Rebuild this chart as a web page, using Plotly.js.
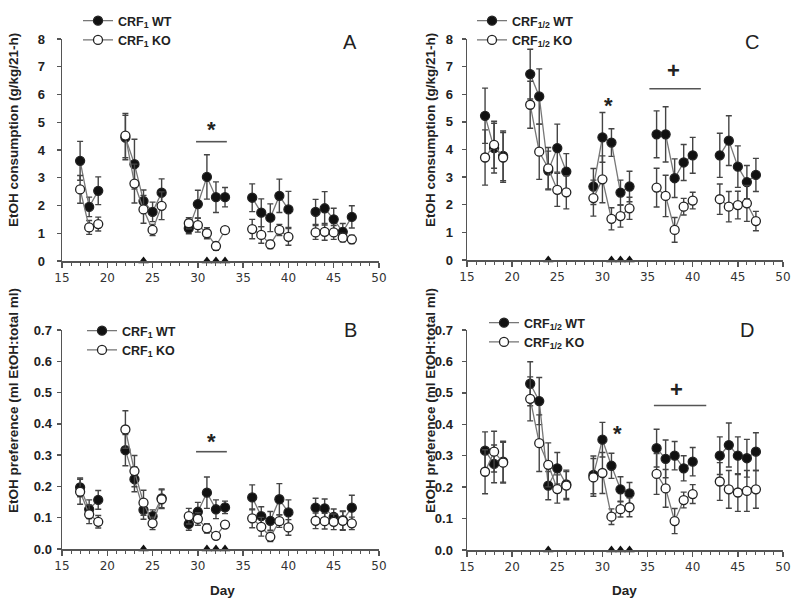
<!DOCTYPE html>
<html><head><meta charset="utf-8">
<script src="https://cdn.plot.ly/plotly-3.0.1.min.js"></script>
<style>body{margin:0;background:#fff}#chart{width:800px;height:607px}</style>
</head><body><div id="chart"></div>
<script>
// ---- data ----
const days = [17,18,19,22,23,24,25,26,29,30,31,32,33,36,37,38,39,40,43,44,45,46,47];
const triangleDays = [24,31,32,33];

const consWT1   = [3.61,1.95,2.53,4.45,3.49,2.16,1.77,2.46,1.18,2.05,3.03,2.30,2.30,2.28,1.74,1.56,2.35,1.86,1.77,1.90,1.50,1.05,1.59];
const consWT1e  = [0.7,0.35,0.5,0.8,0.9,0.4,0.35,0.5,0.2,0.5,0.8,0.55,0.35,0.5,0.5,0.5,0.6,0.65,0.45,0.6,0.4,0.3,0.4];
const consKO1   = [2.58,1.21,1.33,4.52,2.79,1.86,1.12,1.99,1.36,1.29,1.00,0.54,1.11,1.15,0.94,0.60,1.12,0.87,1.03,1.05,1.03,0.84,0.78];
const consKO1e  = [0.5,0.25,0.25,0.8,0.7,0.5,0.2,0.5,0.2,0.25,0.2,0.15,0.1,0.35,0.3,0.15,0.2,0.3,0.25,0.3,0.25,0.15,0.15];

const consWT12  = [5.22,4.05,3.77,6.73,5.92,3.24,4.05,3.20,2.66,4.44,4.25,2.44,2.66,4.55,4.55,2.96,3.53,3.79,3.79,4.32,3.38,2.82,3.08];
const consWT12e = [1.0,0.9,0.9,0.9,1.0,0.7,0.87,0.65,0.65,0.9,0.5,0.45,0.55,0.85,1.0,0.7,0.65,0.65,0.8,0.9,0.75,0.6,0.6];
const consKO12  = [3.71,4.17,3.71,5.62,3.92,3.32,2.54,2.45,2.24,2.92,1.49,1.59,1.87,2.62,2.32,1.09,1.93,2.15,2.20,1.93,1.99,2.05,1.41];
const consKO12e = [1.0,0.85,0.9,0.85,1.0,0.75,0.6,0.6,0.65,0.85,0.4,0.4,0.4,0.7,0.75,0.45,0.3,0.3,0.55,0.55,0.5,0.65,0.35];

const prefWT1   = [0.197,0.127,0.157,0.316,0.223,0.125,0.105,0.162,0.080,0.119,0.180,0.127,0.133,0.165,0.105,0.090,0.159,0.117,0.132,0.130,0.103,0.092,0.132];
const prefWT1e  = [0.03,0.03,0.03,0.05,0.04,0.03,0.02,0.03,0.02,0.03,0.05,0.03,0.02,0.04,0.03,0.03,0.05,0.04,0.03,0.03,0.025,0.03,0.04];
const prefKO1   = [0.183,0.111,0.087,0.382,0.249,0.148,0.082,0.159,0.105,0.096,0.066,0.042,0.078,0.098,0.071,0.039,0.089,0.069,0.090,0.089,0.087,0.090,0.082];
const prefKO1e  = [0.04,0.03,0.02,0.06,0.05,0.04,0.02,0.03,0.025,0.02,0.015,0.01,0.01,0.03,0.03,0.015,0.02,0.025,0.025,0.025,0.025,0.03,0.02];

const prefWT12  = [0.316,0.274,0.281,0.529,0.474,0.205,0.260,0.209,0.239,0.351,0.268,0.193,0.180,0.324,0.290,0.300,0.260,0.281,0.300,0.334,0.300,0.292,0.313];
const prefWT12e = [0.06,0.06,0.065,0.07,0.075,0.045,0.05,0.045,0.06,0.055,0.04,0.04,0.035,0.06,0.06,0.045,0.04,0.045,0.06,0.07,0.06,0.06,0.06];
const prefKO12  = [0.249,0.313,0.278,0.481,0.340,0.271,0.194,0.205,0.231,0.245,0.106,0.130,0.136,0.242,0.196,0.092,0.159,0.178,0.218,0.193,0.183,0.188,0.193];
const prefKO12e = [0.07,0.065,0.065,0.07,0.09,0.07,0.045,0.045,0.06,0.065,0.025,0.025,0.03,0.065,0.06,0.04,0.025,0.03,0.06,0.06,0.06,0.065,0.06];

const panelLabels = ['A','B','C','D'];
const legendNames = {
  wt1: 'CRF<sub>1</sub> WT', ko1: 'CRF<sub>1</sub> KO',
  wt12: 'CRF<sub>1/2</sub> WT', ko12: 'CRF<sub>1/2</sub> KO'
};
const yTitles = ['EtOH consumption (g/kg/21-h)', 'EtOH preference (ml EtOH:total ml)'];
const xTitle = 'Day';

// ---- helpers ----
function withBreaks(xs, ys, es) {
  const X = [], Y = [], E = [];
  for (let i = 0; i < xs.length; i++) {
    if (i > 0 && xs[i] - xs[i-1] > 1) { X.push(null); Y.push(null); E.push(null); }
    X.push(xs[i]); Y.push(ys[i]); E.push(es[i]);
  }
  return {X, Y, E};
}
const LINEC = '#777', ERRC = '#444';
function series(ys, es, filled, name, xa, ya, leg) {
  const d = withBreaks(days, ys, es);
  return {
    x: d.X, y: d.Y, type: 'scatter', mode: 'lines+markers', name: name,
    xaxis: xa, yaxis: ya, legend: leg, connectgaps: false, cliponaxis: false,
    line: {color: LINEC, width: 1.3},
    marker: {symbol: 'circle', size: 9, color: filled ? '#111' : '#fff', line: {color: '#222', width: 1.3}},
    error_y: {type: 'data', array: d.E, visible: true, color: ERRC, thickness: 1.4, width: 3}
  };
}
function tri(xa, ya) {
  return {x: triangleDays, y: triangleDays.map(() => 0), type: 'scatter', mode: 'markers',
    xaxis: xa, yaxis: ya, showlegend: false, cliponaxis: false, hoverinfo: 'skip',
    marker: {symbol: 'triangle-up', size: 9, color: '#111'}};
}

const data = [
  series(consWT1, consWT1e, true, legendNames.wt1, 'x', 'y', 'legend'),
  series(consKO1, consKO1e, false, legendNames.ko1, 'x', 'y', 'legend'),
  tri('x', 'y'),
  series(prefWT1, prefWT1e, true, legendNames.wt1, 'x2', 'y2', 'legend2'),
  series(prefKO1, prefKO1e, false, legendNames.ko1, 'x2', 'y2', 'legend2'),
  tri('x2', 'y2'),
  series(consWT12, consWT12e, true, legendNames.wt12, 'x3', 'y3', 'legend3'),
  series(consKO12, consKO12e, false, legendNames.ko12, 'x3', 'y3', 'legend3'),
  tri('x3', 'y3'),
  series(prefWT12, prefWT12e, true, legendNames.wt12, 'x4', 'y4', 'legend4'),
  series(prefKO12, prefKO12e, false, legendNames.ko12, 'x4', 'y4', 'legend4'),
  tri('x4', 'y4')
];

const W = 800, H = 607;
const px = v => v / W, py = v => 1 - v / H;
const AX = '#555';
function xaxis(x0, x1, anchor) {
  return {domain: [px(x0), px(x1)], anchor: anchor, range: [15, 50], tick0: 15, dtick: 5,
    showgrid: false, zeroline: false, showline: true, linecolor: AX, linewidth: 1.5,
    ticks: 'outside', ticklen: 5, tickwidth: 1.3, tickcolor: AX,
    minor: {dtick: 1, ticks: 'outside', ticklen: 3, tickcolor: AX, tickwidth: 1},
    tickfont: {family: 'DejaVu Sans', size: 12, color: '#333'}};
}
function yaxis(y0, y1, anchor, rng, dt, fmt, standoff) {
  return {domain: [py(y1), py(y0)], anchor: anchor, range: rng, dtick: dt, tick0: 0, tickformat: fmt,
    showgrid: false, zeroline: false, showline: true, linecolor: AX, linewidth: 1.5,
    ticks: 'outside', ticklen: 4, tickwidth: 1.3, tickcolor: AX, ticklabelstandoff: standoff,
    tickfont: {family: 'Liberation Sans', size: 13, weight: 'bold', color: '#222'}};
}

const legFont = {family: 'Liberation Sans', size: 12.5, weight: 'bold', color: '#222'};
function leg(x, y) {
  return {x: px(x), y: py(y), xanchor: 'left', yanchor: 'top', bgcolor: 'rgba(0,0,0,0)',
    font: legFont, itemwidth: 30, tracegroupgap: 0};
}

const ann = [];
function note(x, y, s, font, xref, yref, extra) {
  ann.push(Object.assign({x: x, y: y, xref: xref || 'paper', yref: yref || 'paper', text: s,
    showarrow: false, xanchor: 'center', yanchor: 'middle', font: font}, extra || {}));
}
const letterFont = {family: 'Liberation Sans', size: 20, color: '#222'};
note(px(350), py(42), panelLabels[0], letterFont);
note(px(350), py(330), panelLabels[1], letterFont);
note(px(752), py(42), panelLabels[2], letterFont);
note(px(747), py(330), panelLabels[3], letterFont);
// axis titles
const ttlFont = {family: 'Liberation Sans', size: 13.5, weight: 'bold', color: '#222'};
note(px(13), py(130), yTitles[0], ttlFont, 'paper', 'paper', {textangle: -90});
note(px(13), py(401), yTitles[1], ttlFont, 'paper', 'paper', {textangle: -90});
note(px(430), py(130), yTitles[0], ttlFont, 'paper', 'paper', {textangle: -90});
note(px(430), py(401), yTitles[1], ttlFont, 'paper', 'paper', {textangle: -90});
note(px(222), py(590), xTitle, ttlFont);
note(px(624), py(590), xTitle, ttlFont);
// significance markers
const starFont = {family: 'Liberation Sans', size: 22, weight: 'bold', color: '#222'};
note(31.5, 4.75, '*', starFont, 'x', 'y');
note(31.5, 0.345, '*', starFont, 'x2', 'y2');
note(30.7, 5.6, '*', starFont, 'x3', 'y3');
note(31.7, 0.37, '*', starFont, 'x4', 'y4');
note(37.9, 6.85, '+', starFont, 'x3', 'y3');
note(38.2, 0.51, '+', starFont, 'x4', 'y4');

const ln = {color: '#555', width: 1.6};
const shapes = [
  {type: 'line', xref: 'x', yref: 'y', x0: 29.8, x1: 33.2, y0: 4.3, y1: 4.3, line: ln},
  {type: 'line', xref: 'x2', yref: 'y2', x0: 29.8, x1: 33.2, y0: 0.311, y1: 0.311, line: ln},
  {type: 'line', xref: 'x3', yref: 'y3', x0: 35.2, x1: 40.9, y0: 6.2, y1: 6.2, line: ln},
  {type: 'line', xref: 'x4', yref: 'y4', x0: 35.7, x1: 41.5, y0: 0.46, y1: 0.46, line: ln}
];

const layout = {
  width: W, height: H, margin: {l: 0, r: 0, t: 0, b: 0},
  paper_bgcolor: '#fff', plot_bgcolor: 'rgba(0,0,0,0)',
  font: {family: 'Liberation Sans', color: '#222'},
  showlegend: true,
  xaxis: xaxis(62, 379, 'y'),
  yaxis: yaxis(39, 261, 'x', [0, 8], 1, '', 9),
  xaxis2: xaxis(62, 379, 'y2'),
  yaxis2: yaxis(330, 549, 'x2', [0, 0.7], 0.1, '.1f', 2),
  xaxis3: xaxis(467, 783, 'y3'),
  yaxis3: yaxis(39, 260, 'x3', [0, 8], 1, '', 6),
  xaxis4: xaxis(467, 783, 'y4'),
  yaxis4: yaxis(330, 550, 'x4', [0, 0.7], 0.1, '.1f', 6),
  legend: leg(78, 6),
  legend2: leg(82, 316),
  legend3: leg(472, 6),
  legend4: leg(484, 308),
  annotations: ann,
  shapes: shapes
};
Plotly.newPlot('chart', data, layout, {displayModeBar: false, staticPlot: true});
</script></body></html>
